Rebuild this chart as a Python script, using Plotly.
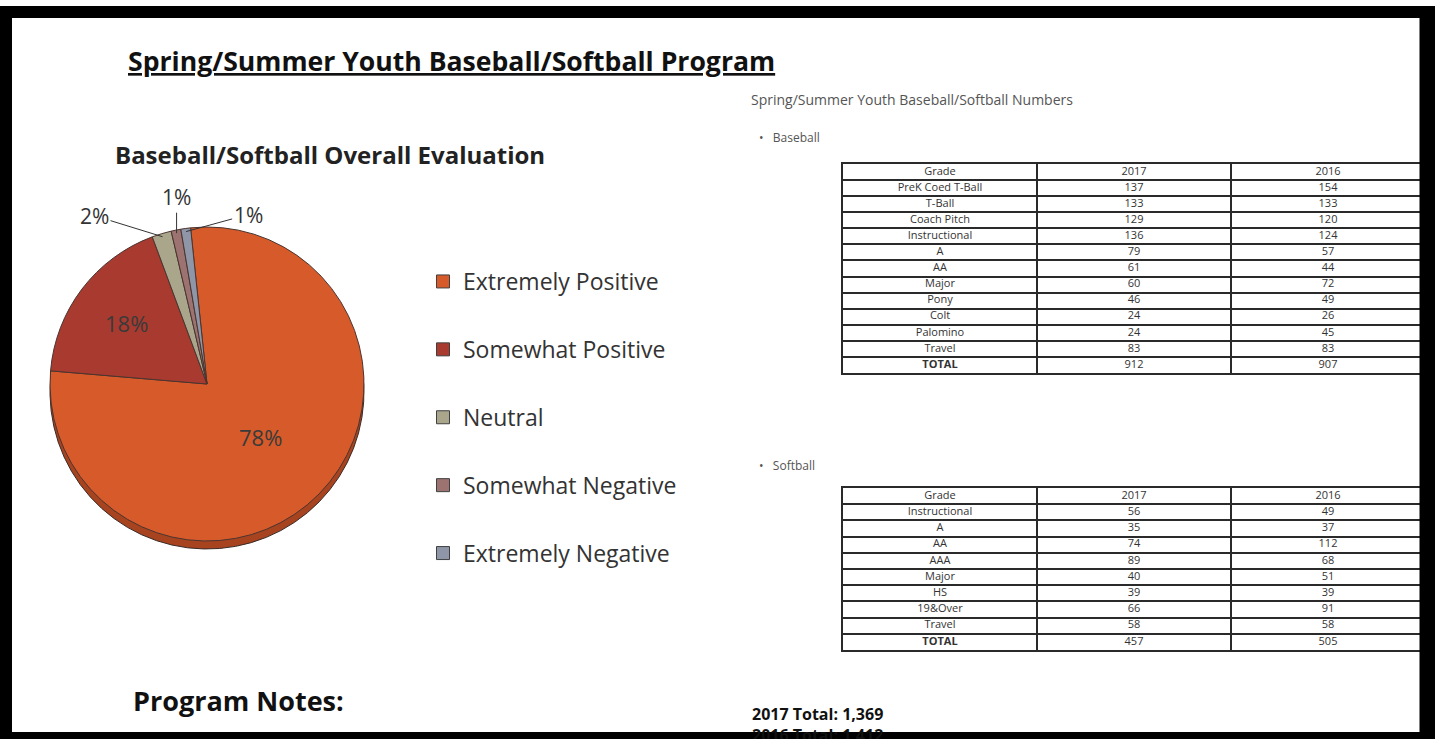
import math
import plotly.graph_objects as go

W, H = 1435, 739

# Overall evaluation survey (percent of respondents)
responses = ["Extremely Positive", "Somewhat Positive", "Neutral",
             "Somewhat Negative", "Extremely Negative"]
response_pct = [78, 18, 2, 1, 1]
response_colors = ["#D65A2A", "#A83A30", "#A9A68C", "#9C7370", "#8E96A8"]
response_depth = ["#A8431F", "#7E2B25", "#807E68", "#765654", "#6A7080"]

# Enrollment by grade
baseball_grades = ["PreK Coed T-Ball", "T-Ball", "Coach Pitch", "Instructional", "A",
                   "AA", "Major", "Pony", "Colt", "Palomino", "Travel"]
baseball_2017 = [137, 133, 129, 136, 79, 61, 60, 46, 24, 24, 83]
baseball_2016 = [154, 133, 120, 124, 57, 44, 72, 49, 26, 45, 83]

softball_grades = ["Instructional", "A", "AA", "AAA", "Major", "HS", "19&Over", "Travel"]
softball_2017 = [56, 35, 74, 89, 40, 39, 66, 58]
softball_2016 = [49, 37, 112, 68, 51, 39, 91, 58]

table_header = ["Grade", "2017", "2016"]

FONT = "Open Sans"
INK = "#2b2b2b"


def px(x):
    return x / W


def py(y):
    return 1 - y / H


fig = go.Figure()

# ---- pie (with a darker copy underneath for the rim) ----
cx, cy, R = 207, 384, 157
rotation = -6
depth = 8
pie_common = dict(values=response_pct, labels=responses, sort=False,
                  direction="clockwise", rotation=rotation, textinfo="none",
                  hoverinfo="label+percent", showlegend=False)
fig.add_trace(go.Pie(
    **pie_common,
    marker=dict(colors=response_depth, line=dict(color="#3a2a25", width=1)),
    domain=dict(x=[px(cx - R), px(cx + R)], y=[py(cy + R + depth), py(cy - R + depth)]),
))
fig.add_trace(go.Pie(
    **pie_common,
    marker=dict(colors=response_colors, line=dict(color="#4a3530", width=1)),
    domain=dict(x=[px(cx - R), px(cx + R)], y=[py(cy + R), py(cy - R)]),
))

# ---- slice labels ----
annotations = []
total = sum(response_pct)
inside_radius = {0: 0.48, 1: 0.64}
outside_offset = {2: (-68, -21), 3: (0, -36), 4: (62, -17)}
cum = 0
for i, v in enumerate(response_pct):
    mid = math.radians(rotation + (cum + v / 2) / total * 360)
    cum += v
    sx, sy = math.sin(mid), -math.cos(mid)
    if i in inside_radius:
        r = inside_radius[i] * R
        annotations.append(dict(
            x=px(cx + r * sx), y=py(cy + r * sy), xref="paper", yref="paper",
            xanchor="center", yanchor="middle",
            text=f"{v}%", showarrow=False,
            font=dict(family=FONT, size=22, color="#3a3a3a")))
    else:
        ax, ay = outside_offset[i]
        r = 0.98 * R
        annotations.append(dict(
            x=px(cx + r * sx), y=py(cy + r * sy), xref="paper", yref="paper",
            text=f"{v}%", showarrow=True, arrowhead=0, arrowwidth=1,
            arrowcolor="#333", ax=ax, ay=ay, standoff=0,
            font=dict(family=FONT, size=21, color="#333")))

# ---- legend entries ----
for name, color in zip(responses, response_colors):
    fig.add_trace(go.Scatter(
        x=[None], y=[None], mode="markers", name=name, legendgroup=name,
        marker=dict(symbol="square", size=13, color=color,
                    line=dict(color="#404040", width=1)),
        xaxis="x", yaxis="y"))


# ---- tables drawn on their own axes: one unit per column / row ----
def add_table(grades, v2017, v2016, xa, ya, top, bottom, left, right, col_w):
    rows = [table_header] + [[g, str(a), str(b)] for g, a, b in zip(grades, v2017, v2016)]
    rows.append(["<b>TOTAL</b>", str(sum(v2017)), str(sum(v2016))])
    xs, ys, texts = [], [], []
    for r, row in enumerate(rows):
        for c, t in enumerate(row):
            xs.append(c + 0.5)
            ys.append(r + 0.5)
            texts.append(t)
    fig.add_trace(go.Scatter(
        x=xs, y=ys, text=texts, mode="text", textposition="middle center",
        textfont=dict(family=FONT, size=11, color="#333"),
        showlegend=False, hoverinfo="skip", xaxis=xa, yaxis=ya))
    n = len(rows)
    axis_style = dict(showgrid=True, gridcolor="#2a2a2a", gridwidth=1.5, dtick=1, tick0=0,
                      showline=True, linecolor="#2a2a2a", linewidth=1.5, mirror=True,
                      zeroline=False, showticklabels=False, ticks="", fixedrange=True)
    fig.update_layout({
        ("xaxis" + xa[1:]): dict(domain=[px(left), px(right)],
                                 range=[0, (right - left) / col_w], anchor=ya, **axis_style),
        ("yaxis" + ya[1:]): dict(domain=[py(bottom), py(top)],
                                 range=[n, 0], anchor=xa, **axis_style),
    })


add_table(baseball_grades, baseball_2017, baseball_2016, "x2", "y2", 164, 373, 843, 1420, 194)
add_table(softball_grades, softball_2017, softball_2016, "x3", "y3", 488, 650, 843, 1420, 194)


# ---- page text ----
def text(x, y, s, size, bold=False, color=INK):
    annotations.append(dict(
        x=px(x), y=py(y), xref="paper", yref="paper", xanchor="left", yanchor="middle",
        text=f"<b>{s}</b>" if bold else s, showarrow=False,
        font=dict(family=FONT, size=size, color=color)))


text(126, 61, "<u>Spring/Summer Youth Baseball/Softball Program</u>", 26.6, bold=True, color="#111")
text(113, 155, "Baseball/Softball Overall Evaluation", 24, bold=True, color="#222")
text(131, 700, "Program Notes:", 27, bold=True, color="#111")
text(749, 100, "Spring/Summer Youth Baseball/Softball Numbers", 14, color="#555")
text(757, 138, "•   Baseball", 12, color="#555")
text(757, 465, "•   Softball", 12, color="#555")
text(750, 714, f"2017 Total: {sum(baseball_2017) + sum(softball_2017):,}", 16, bold=True, color="#111")
text(750, 735, f"2016 Total: {sum(baseball_2016) + sum(softball_2016):,}", 16, bold=True, color="#111")

# ---- black frame ----
frame = [(0, 6, W, 18), (0, 6, 12, H), (1419.5, 6, W, H), (0, 732, W, H)]
shapes = [dict(type="rect", xref="paper", yref="paper", layer="above",
               x0=px(x0), x1=px(x1), y0=py(y1), y1=py(y0),
               fillcolor="black", line=dict(width=0)) for x0, y0, x1, y1 in frame]

fig.update_layout(
    width=W, height=H, autosize=False,
    margin=dict(l=0, r=0, t=0, b=0),
    paper_bgcolor="white", plot_bgcolor="rgba(0,0,0,0)",
    xaxis=dict(visible=False, domain=[0, 0.01]),
    yaxis=dict(visible=False, domain=[0, 0.01]),
    showlegend=True,
    legend=dict(x=px(423), y=py(260), xanchor="left", yanchor="top",
                font=dict(family=FONT, size=23, color="#333"),
                tracegroupgap=35, itemsizing="trace", bgcolor="rgba(0,0,0,0)"),
    annotations=annotations,
    shapes=shapes,
)

fig.write_html("out.html")
